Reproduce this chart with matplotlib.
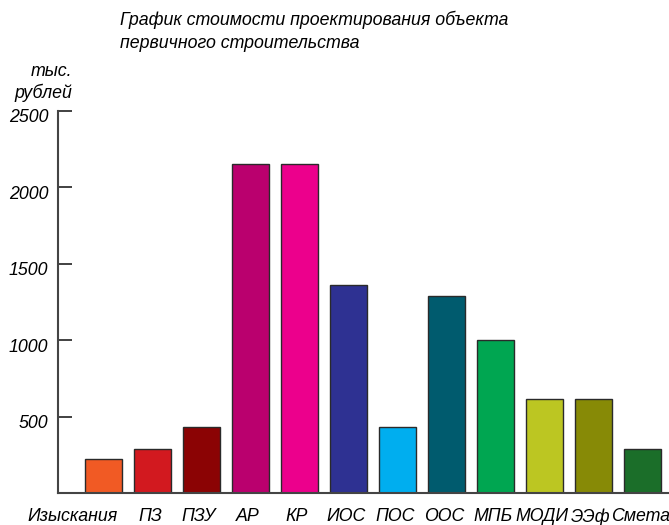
import matplotlib.pyplot as plt
import matplotlib.transforms as mtransforms
import numpy as np

plt.rcParams['font.family'] = ['Liberation Sans', 'DejaVu Sans']
plt.rcParams['font.style'] = 'italic'

# стоимость по разделам, тыс. рублей
razdely = ["Изыскания", "ПЗ", "ПЗУ", "АР", "КР", "ИОС", "ПОС", "ООС", "МПБ", "МОДИ", "ЭЭф", "Смета"]
stoimost = [220, 290, 430, 2150, 2150, 1360, 430, 1290, 1000, 615, 615, 290]
cveta = ["#F15A24", "#D2191F", "#8B0304", "#BA006E", "#EC008C", "#2E3192",
         "#00AEEF", "#005B6E", "#00A651", "#BCC622", "#878A06", "#1B6E29"]

fig = plt.figure(figsize=(6.69, 5.25), dpi=100)
ax = fig.add_axes([0.0867, 0.061, 0.9133, 0.7276])

x = np.arange(len(razdely))
ax.bar(x, stoimost, width=0.755, color=cveta, edgecolor="#2a2a2a", linewidth=1.0, zorder=2)

ax.set_xlim(-0.93, 11.54)
ax.set_ylim(0, 2500)
ax.set_yticks([500, 1000, 1500, 2000, 2500])

# подписи чуть левее центров, длинную первую сдвигаем сильнее
sdvig = np.full(len(razdely), -0.05)
sdvig[0] = -0.63
ax.set_xticks(x + sdvig)
ax.set_xticklabels(razdely)
ax.tick_params(axis="y", direction="in", length=10, width=1.3, color="#333333",
               labelsize=12.8, pad=7)
ax.tick_params(axis="x", length=0, labelsize=12.8, pad=11)

# числа по оси y немного ниже засечек
off = mtransforms.ScaledTranslation(0, -3.5 / 72, fig.dpi_scale_trans)
for lbl in ax.get_yticklabels():
    lbl.set_transform(lbl.get_transform() + off)

for s in ["top", "right"]:
    ax.spines[s].set_visible(False)
for s in ["left", "bottom"]:
    ax.spines[s].set_color("#444444")
    ax.spines[s].set_linewidth(1.5)

fig.text(0.179, 0.9619, "График стоимости проектирования объекта", fontsize=12.8, ha="left", va="center")
fig.text(0.179, 0.9162, "первичного строительства", fontsize=12.8, ha="left", va="center")
fig.text(0.1076, 0.8629, "тыс.", fontsize=12.8, ha="right", va="center")
fig.text(0.1076, 0.8229, "рублей", fontsize=12.8, ha="right", va="center")

plt.savefig("out.png", dpi=100)
